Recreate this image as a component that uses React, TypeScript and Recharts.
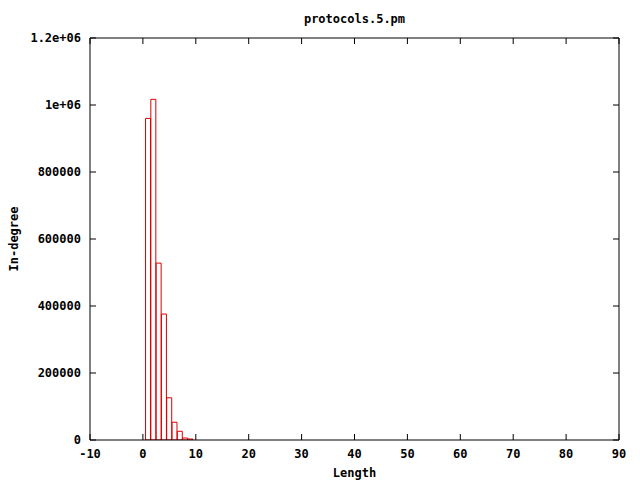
import React from "react";
import { BarChart, Bar, XAxis, YAxis } from "recharts";

const lengths = [1, 2, 3, 4, 5, 6, 7, 8, 9];
const inDegree = [960000, 1017000, 528000, 376000, 126000, 53000, 26000, 6000, 3000];
const xTicks = [-10, 0, 10, 20, 30, 40, 50, 60, 70, 80, 90];
const yTicks = [0, 200000, 400000, 600000, 800000, 1000000, 1200000];

const data = lengths.map((len, i) => ({ len, count: inDegree[i] }));

const FONT = "'DejaVu Sans Mono', monospace";
const tickStyle = { fontFamily: FONT, fontWeight: "bold", fontSize: 12, fill: "#000" };
const axisLine = { stroke: "#000", strokeWidth: 1 };
const TICK_LEN = 6;
const GAP = 9;

const formatY = (v: number): string => {
  if (v === 1000000) return "1e+06";
  if (v === 1200000) return "1.2e+06";
  return String(v);
};

// gnuplot style: tick marks point into the plot
const BottomTick = (p: any) => {
  const edge = p.y - GAP;
  return (
    <g>
      <line x1={p.x} x2={p.x} y1={edge} y2={edge - TICK_LEN} stroke="#000" />
      <text x={p.x} y={p.y} dy="0.71em" textAnchor="middle" style={tickStyle}>
        {p.payload.value}
      </text>
    </g>
  );
};

const LeftTick = (p: any) => {
  const edge = p.x + GAP;
  return (
    <g>
      <line x1={edge} x2={edge + TICK_LEN} y1={p.y} y2={p.y} stroke="#000" />
      <text x={p.x} y={p.y} dy="0.355em" textAnchor="end" style={tickStyle}>
        {formatY(p.payload.value)}
      </text>
    </g>
  );
};

const TopTick = (p: any) => (
  <line x1={p.x} x2={p.x} y1={p.y} y2={p.y + TICK_LEN} stroke="#000" />
);

const RightTick = (p: any) => (
  <line x1={p.x} x2={p.x - TICK_LEN} y1={p.y} y2={p.y} stroke="#000" />
);

const YLabel = (props: any) => {
  const vb = props.viewBox || {};
  const cx = 14;
  const cy = vb.y + vb.height / 2;
  return (
    <text
      x={cx}
      y={cy}
      transform={`rotate(-90 ${cx} ${cy})`}
      textAnchor="middle"
      dominantBaseline="central"
      style={tickStyle}
    >
      In-degree
    </text>
  );
};

export default function App() {
  return (
    <div style={{ position: "absolute", left: 0, top: 0, width: 640, height: 480, background: "#fff" }}>
      <BarChart
        width={640}
        height={480}
        data={data}
        margin={{ top: 37, right: 20, left: 0, bottom: 0 }}
        barCategoryGap={0}
      >
        <XAxis
          dataKey="len"
          type="number"
          domain={[-10, 90]}
          ticks={xTicks}
          allowDataOverflow
          height={40}
          tickSize={0}
          tickMargin={GAP}
          tick={<BottomTick />}
          axisLine={axisLine}
          tickLine={false}
          label={{
            value: "Length",
            position: "insideBottom",
            offset: 3,
            style: tickStyle,
          }}
        />
        <XAxis
          xAxisId="top"
          orientation="top"
          dataKey="len"
          type="number"
          domain={[-10, 90]}
          ticks={xTicks}
          allowDataOverflow
          height={1}
          tickSize={0}
          tickMargin={0}
          tick={<TopTick />}
          axisLine={axisLine}
          tickLine={false}
          label={{
            value: "protocols.5.pm",
            position: "top",
            offset: 14,
            style: tickStyle,
          }}
        />
        <YAxis
          type="number"
          domain={[0, 1200000]}
          ticks={yTicks}
          allowDataOverflow
          width={90}
          tickSize={0}
          tickMargin={GAP}
          tick={<LeftTick />}
          axisLine={axisLine}
          tickLine={false}
          label={{ content: YLabel }}
        />
        <YAxis
          yAxisId="right"
          orientation="right"
          type="number"
          domain={[0, 1200000]}
          ticks={yTicks}
          allowDataOverflow
          width={1}
          tickSize={0}
          tickMargin={0}
          tick={<RightTick />}
          axisLine={axisLine}
          tickLine={false}
        />
        <Bar
          dataKey="count"
          fill="none"
          stroke="#dd0000"
          strokeWidth={1}
          isAnimationActive={false}
        />
      </BarChart>
    </div>
  );
}
